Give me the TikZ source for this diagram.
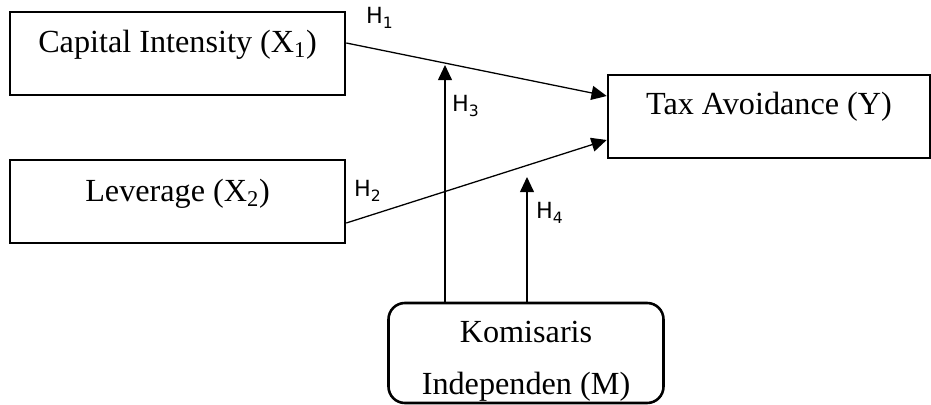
\documentclass[tikz,border=0pt]{standalone}
\usepackage{fontspec}
\setmainfont{Liberation Serif}
\newfontfamily\hfont{DejaVu Sans}
\usetikzlibrary{positioning,arrows.meta}

\begin{document}
\begin{tikzpicture}[x=0.03cm, y=-0.03cm,
    varbox/.style={draw, line width=2.2pt, minimum width=10.05cm, minimum height=2.49cm, font=\fontsize{27.5}{32}\selectfont},
    modbox/.style={draw, line width=2.2pt, rounded corners=14pt, inner sep=0pt, minimum width=8.25cm, minimum height=3cm, align=center, font=\fontsize{27.5}{45}\selectfont},
    link/.style={-{Triangle[length=13pt, width=12pt]}, line width=1.1pt},
    hyp/.style={font=\hfont\fontsize{19}{22}\selectfont}]
    \useasboundingbox (0,0) rectangle (931,405);

    % Variables
    \node[varbox, text depth=0.75cm] (cap) at (177.5,53.5) {Capital Intensity (X\textsubscript{1})};
    \node[varbox, text depth=0.68cm] (lev) at (177.5,201.5) {Leverage (X\textsubscript{2})};
    \node[varbox, minimum width=9.66cm, text depth=0.78cm] (tax) at (769,116.5) {Tax Avoidance (Y)};

    % Moderator
    \node[modbox] (kom) at (526,353) {\rule{0pt}{1.13cm}Komisaris\\Independen (M)};

    % Direct effects
    \draw[link] (cap.east |- 0,43) -- (tax.west |- 0,96);
    \draw[link] (lev.east |- 0,223) -- (tax.west |- 0,140);

    % Moderation
    \coordinate (m3) at (445,65);
    \coordinate (m4) at (527,177);
    \draw[link] (kom.north -| m3) -- (m3);
    \draw[link] (kom.north -| m4) -- (m4);

    % Hypotheses
    \node[hyp, anchor=west] (h1) at (362,18) {H\textsubscript{1}};
    \node[hyp, anchor=west] (h2) at (350,191) {H\textsubscript{2}};
    \node[hyp, anchor=west] (h3) at (448,106) {H\textsubscript{3}};
    \node[hyp, anchor=west] (h4) at (532,213) {H\textsubscript{4}};
\end{tikzpicture}
\end{document}
